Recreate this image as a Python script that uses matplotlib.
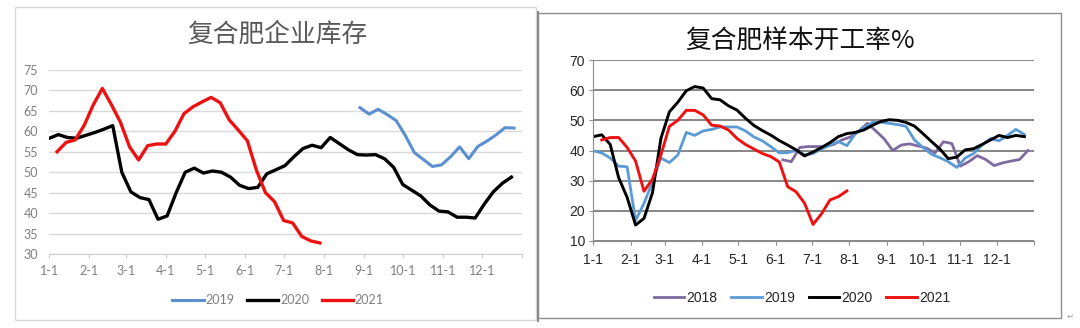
import numpy as np
import matplotlib.pyplot as plt
from matplotlib.patches import Rectangle
from matplotlib.lines import Line2D

plt.rcParams['font.family'] = ['Noto Sans CJK SC', 'DejaVu Sans']

W, H = 1080, 328

# month ticks (day of year)
month_days = [0, 31, 59, 90, 120, 151, 181, 212, 243, 273, 304, 334]
month_labels = ['1-1', '2-1', '3-1', '4-1', '5-1', '6-1', '7-1', '8-1',
                '9-1', '10-1', '11-1', '12-1']
year_end = 365

# ---- left chart: 复合肥企业库存 (weekly) ----
inv_2019_start = 240
inv_2019 = [65.8, 64.2, 65.4, 64.1, 62.6, 59.0, 54.8, 53.1, 51.4, 51.8,
            53.8, 56.2, 53.3, 56.3, 57.6, 59.1, 60.9, 60.8]
inv_2020_start = 0
inv_2020 = [58.3, 59.2, 58.5, 58.3, 59.0, 59.7, 60.5, 61.4, 50.0, 45.2,
            43.8, 43.3, 38.5, 39.3, 45.0, 50.0, 51.0, 49.8, 50.3, 50.0,
            48.8, 46.8, 46.0, 46.3, 49.6, 50.6, 51.6, 53.8, 55.8, 56.6,
            56.0, 58.5, 57.0, 55.5, 54.3, 54.2, 54.3, 53.3, 51.2, 47.0,
            45.6, 44.2, 42.0, 40.5, 40.3, 39.0, 39.0, 38.8, 42.2, 45.2,
            47.3, 48.8]
inv_2021_start = 6
inv_2021 = [55.0, 57.3, 57.9, 61.5, 66.5, 70.5, 66.5, 62.2, 56.2, 53.0,
            56.5, 56.9, 56.9, 60.0, 64.3, 66.0, 67.2, 68.3, 67.0, 62.8,
            60.3, 57.7, 50.5, 45.0, 42.8, 38.2, 37.6, 34.3, 33.2, 32.7]

# ---- right chart: 复合肥样本开工率% (weekly) ----
rate_2018_start = 157
rate_2018 = [36.9, 36.3, 41.0, 41.3, 41.3, 41.3, 42.0, 43.5, 44.5, 46.5,
             49.0, 46.5, 43.8, 40.0, 41.8, 42.2, 41.5, 40.8, 39.2, 42.9,
             42.3, 34.8, 36.3, 38.3, 37.0, 35.0, 35.9, 36.5, 37.0, 40.0]
rate_2019_start = 0
rate_2019 = [39.9, 39.2, 37.5, 34.8, 34.6, 16.8, 22.5, 29.5, 37.5, 36.0,
             38.5, 46.0, 45.0, 46.5, 47.0, 47.8, 47.8, 47.8, 46.5, 44.5,
             43.2, 41.3, 39.2, 39.3, 40.0, 38.6, 39.0, 40.5, 41.8, 43.0,
             41.6, 45.5, 47.5, 49.3, 49.4, 49.0, 48.6, 48.0, 43.5, 41.0,
             38.8, 37.6, 36.3, 34.4, 37.5, 39.0, 41.8, 44.0, 43.2, 45.0,
             47.0, 45.3]
rate_2020_start = 0
rate_2020 = [44.6, 45.2, 42.0, 31.0, 24.5, 15.3, 17.5, 26.0, 44.0, 52.8,
             56.0, 59.8, 61.2, 60.7, 57.2, 56.8, 54.8, 53.4, 50.7, 48.3,
             46.6, 45.1, 43.3, 41.8, 40.2, 38.2, 39.5, 41.0, 42.6, 44.6,
             45.6, 46.0, 46.8, 48.3, 49.6, 50.2, 50.0, 49.3, 48.1, 45.6,
             43.0, 40.5, 37.3, 37.8, 40.2, 40.6, 42.0, 43.5, 45.0, 44.3,
             45.0, 44.6]
rate_2021_start = 7
rate_2021 = [43.5, 44.3, 44.3, 41.0, 36.5, 26.5, 30.5, 38.5, 48.0, 50.0,
             53.3, 53.3, 51.8, 48.4, 48.1, 46.8, 44.0, 42.0, 40.5, 39.0,
             38.0, 36.2, 28.0, 26.3, 22.5, 15.5, 19.0, 23.6, 24.7, 26.6]


def weekly(start, vals):
    return np.arange(len(vals)) * 7 + start


def fx(px):
    return px / W


def fy(py):
    return 1 - py / H


fig = plt.figure(figsize=(W / 100, H / 100), dpi=100)
fig.patch.set_facecolor('white')

# frames
fig.patches.append(Rectangle((fx(15), fy(320)), fx(536) - fx(15), fy(7) - fy(320),
                             transform=fig.transFigure, fill=False,
                             edgecolor='#d9d9d9', lw=1.0))
fig.lines.append(Line2D([fx(538), fx(538)], [fy(12), fy(321)],
                        transform=fig.transFigure, color='#8a8a8a', lw=1.5))
fig.patches.append(Rectangle((fx(538), fy(318)), fx(1061) - fx(538), fy(12.5) - fy(318),
                             transform=fig.transFigure, fill=False,
                             edgecolor='#8c8c8c', lw=1.0))

# ---------------- left chart ----------------
ax1 = fig.add_axes([fx(49.3), fy(254), fx(521.8) - fx(49.3), fy(70) - fy(254)])
ax1.plot(weekly(inv_2019_start, inv_2019), inv_2019, color='#5b8fd0', lw=2.2,
         label='2019', solid_joinstyle='round')
ax1.plot(weekly(inv_2020_start, inv_2020), inv_2020, color='black', lw=2.4,
         label='2020', solid_joinstyle='round')
ax1.plot(weekly(inv_2021_start, inv_2021), inv_2021, color='#ee1111', lw=2.4,
         label='2021', solid_joinstyle='round')
ax1.set_xlim(0, year_end)
ax1.set_ylim(30, 75)
ax1.set_yticks(np.arange(30, 76, 5))
ax1.set_xticks(month_days + [year_end])
ax1.set_xticklabels(month_labels + [''])
ax1.grid(axis='y', color='#d9d9d9', lw=1.0)
ax1.set_axisbelow(True)
for s in ['top', 'right', 'left']:
    ax1.spines[s].set_visible(False)
ax1.spines['bottom'].set_color('#d0d0d0')
ax1.tick_params(axis='y', length=0, pad=8, labelsize=9, labelcolor='#7f7f7f')
ax1.tick_params(axis='x', length=3, color='#d0d0d0', pad=5, labelsize=9,
                labelcolor='#7f7f7f')
for t in ax1.get_xticklabels() + ax1.get_yticklabels():
    t.set_fontfamily(['Lato', 'DejaVu Sans'])
fig.text(fx(277), fy(35), '复合肥企业库存', ha='center', va='center',
         fontsize=18.5, color='#595959')
fig.legend(handles=ax1.get_lines(), loc='center', bbox_to_anchor=(fx(278), fy(300)),
           ncol=3, frameon=False, handlelength=2.5, handletextpad=0.15,
           columnspacing=1.0, prop={'family': ['Lato', 'DejaVu Sans'], 'size': 9},
           labelcolor='#7f7f7f')

# ---------------- right chart ----------------
ax2 = fig.add_axes([fx(593.3), fy(241), fx(1034) - fx(593.3), fy(60) - fy(241)])
ax2.plot(weekly(rate_2018_start, rate_2018), rate_2018, color='#7e6a9e', lw=2.0,
         label='2018')
ax2.plot(weekly(rate_2019_start, rate_2019), rate_2019, color='#5b9bd5', lw=2.0,
         label='2019')
ax2.plot(weekly(rate_2020_start, rate_2020), rate_2020, color='black', lw=2.1,
         label='2020')
ax2.plot(weekly(rate_2021_start, rate_2021), rate_2021, color='#ee1111', lw=2.1,
         label='2021')
ax2.set_xlim(0, year_end)
ax2.set_ylim(10, 70)
ax2.set_yticks(np.arange(10, 71, 10))
ax2.set_xticks(month_days + [year_end])
ax2.set_xticklabels(month_labels + [''])
ax2.grid(axis='y', color='#868686', lw=1.4)
ax2.set_axisbelow(True)
for s in ['top', 'right']:
    ax2.spines[s].set_visible(False)
ax2.spines['left'].set_color('#8c8c8c')
ax2.spines['bottom'].set_color('#8c8c8c')
ax2.tick_params(axis='y', length=3, color='#8c8c8c', pad=3, labelsize=10,
                labelcolor='#262626')
ax2.tick_params(axis='x', length=3, color='#8c8c8c', pad=6, labelsize=10,
                labelcolor='#262626')
for t in ax2.get_xticklabels() + ax2.get_yticklabels():
    t.set_fontfamily(['Liberation Sans', 'DejaVu Sans'])
fig.text(fx(800), fy(41), '复合肥样本开工率%', ha='center', va='center',
         fontsize=18.5, color='#111111')
fig.legend(handles=ax2.get_lines(), loc='center', bbox_to_anchor=(fx(802), fy(298)),
           ncol=4, frameon=False, handlelength=2.2, handletextpad=0.15,
           columnspacing=1.0, prop={'family': ['Liberation Sans', 'DejaVu Sans'], 'size': 10},
           labelcolor='#262626')

fig.text(fx(1070), fy(316), '↵', ha='center', va='center', fontsize=6,
         color='#999999', family=['DejaVu Sans'])

fig.savefig('out.png', dpi=100, facecolor='white')
